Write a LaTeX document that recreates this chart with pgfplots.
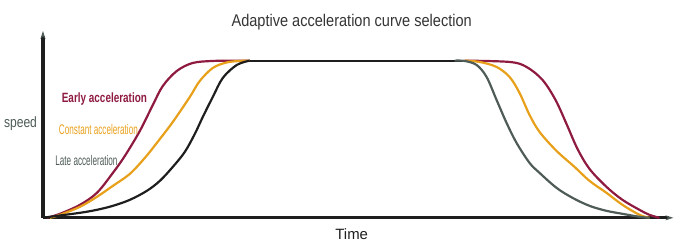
\documentclass[border=0pt]{standalone}
\usepackage{pgfplots}
\pgfplotsset{compat=1.18}
\usepackage{fontspec}
\setmainfont{Liberation Sans}
\newfontfamily\titlef[FakeStretch=0.86]{Liberation Sans}
\newfontfamily\boldf[FakeStretch=0.74]{Liberation Sans}
\newfontfamily\condf[FakeStretch=0.585]{Liberation Sans}
\newfontfamily\speedf[FakeStretch=0.81]{Liberation Sans}
\usetikzlibrary{arrows.meta}
\definecolor{cRed}{HTML}{8E1B3F}
\definecolor{cOrange}{HTML}{E8A01A}
\definecolor{cBlack}{HTML}{1E1E1E}
\definecolor{cGray}{HTML}{4E5B56}
\begin{document}
\begin{tikzpicture}
\begin{axis}[
  x=1bp, y=1bp,
  xmin=43, xmax=674, ymin=0, ymax=187,
  axis lines=left,
  axis line style={line width=3.2pt, cBlack, -{Stealth[length=8pt,width=5pt,color=cGray]}},
  ticks=none,
  clip=false,
  every axis plot/.append style={line width=2.2pt, smooth, tension=0.55, no marks},
]
\path (axis cs:0,-24) rectangle (axis cs:675,218);
% plateau
\addplot[cBlack] coordinates {(245,157.3) (465,157.3)};
% accelerations
\addplot[cRed] coordinates {(47,0) (60,4) (80,13) (97,25) (113,45) (125,62) (140,87) (153,113) (163,132) (177,147) (193,155) (213,157) (233,157.3) (250,157.3)};
\addplot[cOrange] coordinates {(50,0) (60,3) (80,11) (97,21) (113,32) (130,44) (145,60) (157,75) (173,96) (190,121) (200,137) (213,150) (227,155.5) (240,157) (250,157.3)};
\addplot[cBlack] coordinates {(45,0) (50,1) (80,5) (97,8) (113,12) (130,18) (147,27) (160,37) (173,51) (185,66) (195,84) (203,101) (213,121) (223,140) (237,153) (250,157.3)};
% decelerations
\addplot[cRed] coordinates {(465,157.3) (510,156) (527,151) (543,138) (556,118) (567,94) (578,69) (590,49) (607,31) (623,18) (640,8) (650,3) (660,0)};
\addplot[cOrange] coordinates {(465,157.3) (480,156) (497,151) (510,141) (520,125) (530,103) (540,86) (557,67) (575,51) (590,37) (607,25) (623,13) (640,3) (650,0)};
\addplot[cGray] coordinates {(455,157.3) (465,157) (477,153) (487,141) (497,118) (507,95) (517,75) (530,55) (540,45) (557,30) (573,20) (590,12) (607,7) (623,4) (640,1) (650,0)};
% labels
\node[font=\titlef\fontsize{17}{19}\selectfont, text=cBlack!90] at (axis cs:352,196) {Adaptive acceleration curve selection};
\node[font=\fontsize{15}{17}\selectfont, text=cBlack] at (axis cs:352,-16) {Time};
\node[font=\speedf\fontsize{15}{17}\selectfont, text=cGray] at (axis cs:20.5,94) {speed};
\node[font=\boldf\bfseries\fontsize{13.5}{15}\selectfont, text=cRed] at (axis cs:104.5,119) {Early acceleration};
\node[font=\condf\fontsize{14}{16}\selectfont, text=cOrange] at (axis cs:98.5,88) {Constant acceleration};
\node[font=\condf\fontsize{14}{16}\selectfont, text=cGray] at (axis cs:86.5,57) {Late acceleration};
\end{axis}
\end{tikzpicture}
\end{document}
